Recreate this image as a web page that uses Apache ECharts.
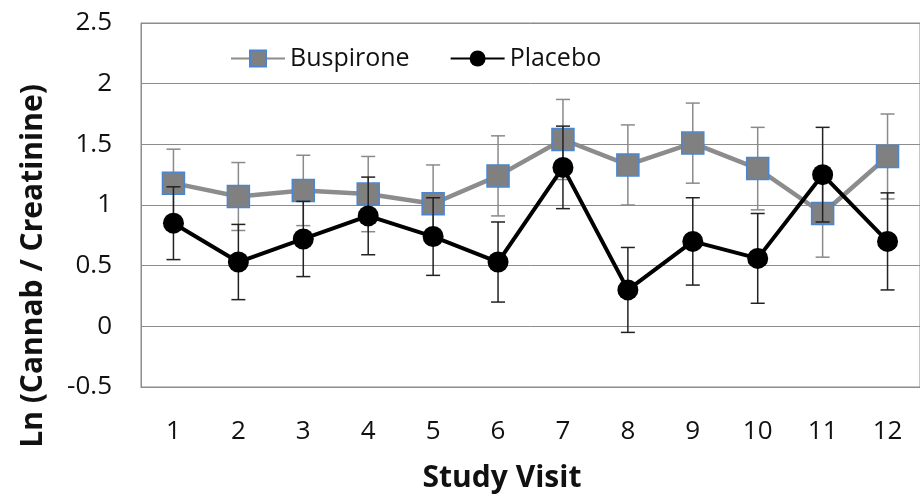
<!DOCTYPE html>
<html><head><meta charset="utf-8">
<script src="https://cdn.jsdelivr.net/npm/echarts@6/dist/echarts.min.js"></script>
<style>html,body{margin:0;padding:0;background:#fff}#c{width:920px;height:499px}</style>
</head><body><div id="c"></div>
<script>
const visits = ['1','2','3','4','5','6','7','8','9','10','11','12'];
const buspirone = [1.18, 1.07, 1.12, 1.09, 1.01, 1.24, 1.54, 1.33, 1.51, 1.30, 0.93, 1.40];
const buspironeErr = [0.28, 0.28, 0.29, 0.31, 0.32, 0.33, 0.33, 0.33, 0.33, 0.34, 0.36, 0.35];
const placebo = [0.85, 0.53, 0.72, 0.91, 0.74, 0.53, 1.31, 0.30, 0.70, 0.56, 1.25, 0.70];
const placeboErr = [0.30, 0.31, 0.31, 0.32, 0.32, 0.33, 0.34, 0.35, 0.36, 0.37, 0.39, 0.40];
const yTicks = [-0.5, 0, 0.5, 1, 1.5, 2, 2.5];

const FONT = '"Open Sans"';
function errData(vals, errs){ return vals.map((v,i)=>[i, v-errs[i], v+errs[i]]); }
function errRender(color){
  return function(params, api){
    const x = api.value(0);
    const lo = api.coord([x, api.value(1)]);
    const hi = api.coord([x, api.value(2)]);
    const w = 7;
    const st = {stroke: color, lineWidth: 1.5};
    return {type:'group', children:[
      {type:'line', shape:{x1:lo[0],y1:lo[1],x2:hi[0],y2:hi[1]}, style:st},
      {type:'line', shape:{x1:lo[0]-w,y1:lo[1],x2:lo[0]+w,y2:lo[1]}, style:st},
      {type:'line', shape:{x1:hi[0]-w,y1:hi[1],x2:hi[0]+w,y2:hi[1]}, style:st}
    ]};
  };
}
const chart = echarts.init(document.getElementById('c'), null, {renderer:'canvas'});
chart.setOption({
  animation:false,
  textStyle:{fontFamily:FONT},
  grid:{left:141, top:23, right:-9, bottom:112, show:true, borderColor:'#8c8c8c', borderWidth:1},
  legend:{
    left:225, top:41, itemWidth:54, itemHeight:20, itemGap:40,
    textStyle:{fontFamily:FONT, fontSize:25, color:'#111'},
    data:['Buspirone','Placebo']
  },
  xAxis:{
    type:'category', data:visits, boundaryGap:true,
    axisLine:{show:true, onZero:false, lineStyle:{color:'#8c8c8c'}},
    axisTick:{show:false},
    axisLabel:{fontFamily:FONT, fontSize:26, color:'#111', margin:32}
  },
  yAxis:{
    type:'value', min:yTicks[0], max:yTicks[yTicks.length-1], interval:0.5,
    axisLine:{show:true, lineStyle:{color:'#8c8c8c'}},
    axisTick:{show:false},
    splitLine:{lineStyle:{color:'#8c8c8c', width:1}},
    axisLabel:{fontFamily:FONT, fontSize:26, color:'#111', margin:29}
  },
  graphic:[
    {type:'text', x:502, y:478, z:10, style:{text:'Study Visit', font:'bold 30px '+FONT, fill:'#111', textAlign:'center', textVerticalAlign:'middle'}},
    {type:'text', x:33, y:266, rotation:Math.PI/2, z:10, style:{text:'Ln (Cannab / Creatinine)', font:'bold 30px '+FONT, fill:'#111', textAlign:'center', textVerticalAlign:'middle'}}
  ],
  series:[
    {type:'custom', name:'BuspironeErr', data:errData(buspirone,buspironeErr), renderItem:errRender('#8a8a8a'), z:1, silent:true},
    {type:'line', name:'Buspirone', data:buspirone, z:2,
     symbol:'rect', symbolSize:22,
     lineStyle:{color:'#8c8c8c', width:4.5},
     itemStyle:{color:'#808080', borderColor:'#4a86d0', borderWidth:1.5}},
    {type:'custom', name:'PlaceboErr', data:errData(placebo,placeboErr), renderItem:errRender('#222'), z:3, silent:true},
    {type:'line', name:'Placebo', data:placebo, z:4,
     symbol:'circle', symbolSize:21,
     lineStyle:{color:'#000', width:4},
     itemStyle:{color:'#000', borderColor:'#000', borderWidth:0}}
  ]
});
</script></body></html>
